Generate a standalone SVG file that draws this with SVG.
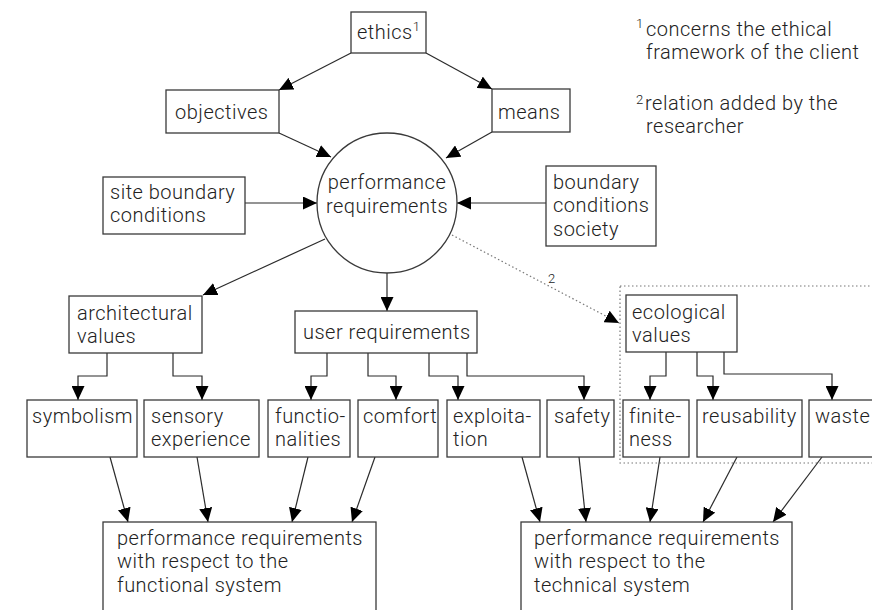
<svg xmlns="http://www.w3.org/2000/svg" width="872" height="610" viewBox="0 0 872 610">
  <style>
    text { font-family: Roboto, "Liberation Sans", Arial, sans-serif; font-weight: 300; font-size: 20px; letter-spacing: 0.5px; fill: #222; }
    .sup { font-size: 13px; letter-spacing: 0; }
    .box { fill: #ffffff; stroke: #3a3a3a; stroke-width: 1.3; }
    .edge { fill: none; stroke: #2b2b2b; stroke-width: 1.2; marker-end: url(#arrow); }
    .dotted { fill: none; stroke: #777; stroke-width: 1.2; stroke-dasharray: 1.5 2.5; }
  </style>
  <defs>
    <marker id="arrow" markerUnits="userSpaceOnUse" markerWidth="14" markerHeight="13" refX="14" refY="6.5" orient="auto">
      <path d="M0,0 L14,6.5 L0,13 z" fill="#000"/>
    </marker>
  </defs>
  <rect width="872" height="610" fill="#fff"/>

  <!-- grouping frame round the ecological branch -->
  <rect class="dotted" x="620" y="286" width="262" height="177"/>

  <g id="connectors">
    <line class="edge" x1="351" y1="53" x2="279" y2="90"/>
    <line class="edge" x1="426" y1="53" x2="492" y2="89"/>
    <line class="edge" x1="279" y1="133" x2="331" y2="157"/>
    <line class="edge" x1="492" y1="132" x2="446" y2="158"/>
    <line class="edge" x1="245" y1="203" x2="317" y2="203"/>
    <line class="edge" x1="546" y1="203" x2="457" y2="203"/>
    <line class="edge" x1="325" y1="239" x2="203" y2="295"/>
    <line class="edge" x1="387" y1="273" x2="387" y2="311"/>
    <path class="dotted" d="M452,235 L619,323" marker-end="url(#arrow)"/>
    <!-- architectural values -->
    <polyline class="edge" points="107,353 107,376 78,376 78,400"/>
    <polyline class="edge" points="173,353 173,376 202,376 202,400"/>
    <!-- user requirements -->
    <polyline class="edge" points="327,353 327,376 311,376 311,400"/>
    <polyline class="edge" points="368,353 368,376 396,376 396,400"/>
    <polyline class="edge" points="429,353 429,376 458,376 458,400"/>
    <polyline class="edge" points="467,353 467,376 584,376 584,400"/>
    <!-- ecological values -->
    <polyline class="edge" points="666,352 666,376 650,376 650,400"/>
    <polyline class="edge" points="697,352 697,376 713,376 713,400"/>
    <polyline class="edge" points="724,352 724,374 832,374 832,400"/>
    <!-- into functional system -->
    <line class="edge" x1="110" y1="457" x2="128" y2="522"/>
    <line class="edge" x1="197" y1="457" x2="208" y2="522"/>
    <line class="edge" x1="308" y1="457" x2="292" y2="522"/>
    <line class="edge" x1="375" y1="457" x2="352" y2="522"/>
    <!-- into technical system -->
    <line class="edge" x1="522" y1="457" x2="540" y2="522"/>
    <line class="edge" x1="579" y1="457" x2="586" y2="522"/>
    <line class="edge" x1="660" y1="457" x2="650" y2="522"/>
    <line class="edge" x1="737" y1="457" x2="703" y2="522"/>
    <line class="edge" x1="822" y1="457" x2="773" y2="522"/>
  </g>
  <text class="sup" x="548" y="283">2</text>

  <g id="ethics">
    <rect class="box" x="351" y="12" width="75" height="41"/>
    <text x="357" y="39">ethics<tspan class="sup" dy="-8">1</tspan></text>
  </g>
  <g id="objectives">
    <rect class="box" x="166" y="90" width="113" height="43"/>
    <text x="175" y="119">objectives</text>
  </g>
  <g id="means">
    <rect class="box" x="492" y="89" width="78" height="43"/>
    <text x="498" y="119">means</text>
  </g>
  <g id="performance-requirements">
    <circle class="box" cx="387" cy="203" r="70"/>
    <text x="387" y="189" text-anchor="middle">performance</text>
    <text x="387" y="213" text-anchor="middle">requirements</text>
  </g>
  <g id="site-boundary">
    <rect class="box" x="103" y="177" width="142" height="57"/>
    <text x="110" y="199">site boundary</text>
    <text x="110" y="222">conditions</text>
  </g>
  <g id="boundary-society">
    <rect class="box" x="546" y="166" width="110" height="80"/>
    <text x="553" y="189">boundary</text>
    <text x="553" y="212">conditions</text>
    <text x="553" y="236">society</text>
  </g>
  <g id="architectural-values">
    <rect class="box" x="69" y="296" width="133" height="57"/>
    <text x="77" y="320">architectural</text>
    <text x="77" y="343">values</text>
  </g>
  <g id="user-requirements">
    <rect class="box" x="295" y="311" width="182" height="42"/>
    <text x="303" y="339">user requirements</text>
  </g>
  <g id="ecological-values">
    <rect class="box" x="626" y="295" width="111" height="57"/>
    <text x="632" y="319">ecological</text>
    <text x="632" y="342">values</text>
  </g>

  <g id="symbolism">
    <rect class="box" x="27" y="400" width="110" height="57"/>
    <text x="32" y="423">symbolism</text>
  </g>
  <g id="sensory-experience">
    <rect class="box" x="144" y="400" width="115" height="57"/>
    <text x="151" y="423">sensory</text>
    <text x="151" y="446">experience</text>
  </g>
  <g id="functionalities">
    <rect class="box" x="268" y="400" width="82" height="57"/>
    <text x="275" y="423">functio-</text>
    <text x="275" y="446">nalities</text>
  </g>
  <g id="comfort">
    <rect class="box" x="358" y="400" width="80" height="57"/>
    <text x="363" y="423">comfort</text>
  </g>
  <g id="exploitation">
    <rect class="box" x="447" y="400" width="93" height="57"/>
    <text x="453" y="423">exploita-</text>
    <text x="453" y="446">tion</text>
  </g>
  <g id="safety">
    <rect class="box" x="547" y="400" width="67" height="57"/>
    <text x="554" y="423">safety</text>
  </g>
  <g id="finiteness">
    <rect class="box" x="623" y="400" width="66" height="57"/>
    <text x="629" y="423">finite-</text>
    <text x="629" y="446">ness</text>
  </g>
  <g id="reusability">
    <rect class="box" x="697" y="400" width="105" height="57"/>
    <text x="702" y="423">reusability</text>
  </g>
  <g id="waste">
    <rect class="box" x="809" y="400" width="70" height="57"/>
    <text x="815" y="423">waste</text>
  </g>

  <g id="functional-system">
    <rect class="box" x="103" y="522" width="273" height="100"/>
    <text x="117" y="545">performance requirements</text>
    <text x="117" y="568">with respect to the</text>
    <text x="117" y="592">functional system</text>
  </g>
  <g id="technical-system">
    <rect class="box" x="521" y="522" width="271" height="100"/>
    <text x="534" y="545">performance requirements</text>
    <text x="534" y="568">with respect to the</text>
    <text x="534" y="592">technical system</text>
  </g>

  <g id="notes">
    <text class="sup" x="636" y="28">1</text>
    <text x="646" y="36">concerns the ethical</text>
    <text x="646" y="59">framework of the client</text>
    <text class="sup" x="636" y="104">2</text>
    <text x="645" y="110">relation added by the</text>
    <text x="646" y="133">researcher</text>
  </g>
</svg>
